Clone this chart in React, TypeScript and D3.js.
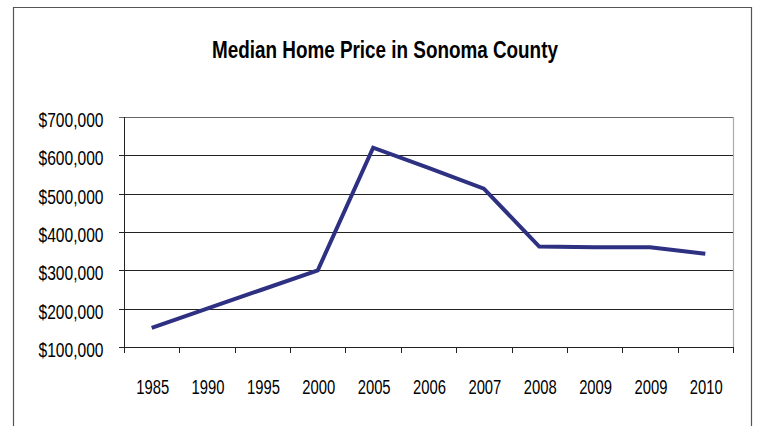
import React from "react";
import * as d3 from "d3";

const categories = ["1985", "1990", "1995", "2000", "2005", "2006", "2007", "2008", "2009", "2009 ", "2010"];
const prices = [150000, 200000, 250000, 300000, 620000, 567000, 513000, 362000, 360000, 360000, 343000];
const yTicks = [100000, 200000, 300000, 400000, 500000, 600000, 700000];
const title = "Median Home Price in Sonoma County";

const W = 760;
const H = 426;
const FONT = "'Liberation Sans', Arial, sans-serif";
const SX = 0.8;

export default function App() {
  const left = 124, right = 733, top = 117, bottom = 347;
  const x = d3.scaleBand<string>().domain(categories).range([left, right]).padding(0);
  const y = d3.scaleLinear().domain([100000, 700000]).range([bottom, top]);
  const cx = (c: string) => (x(c) as number) + x.bandwidth() / 2;
  const line = d3
    .line<number>()
    .x((_, i) => cx(categories[i]))
    .y((d) => y(d));
  const fmt = (v: number) => "$" + d3.format(",")(v);
  const boundaries = categories.map((c) => x(c) as number).concat([right]);

  return (
    <svg width={W} height={H} style={{ position: "absolute", left: 0, top: 0 }} fontFamily={FONT}>
      <rect x={0} y={0} width={W} height={H} fill="#fff" />
      {/* outer frame */}
      <path d={`M13.5,${H} V7.5 H751.5 V${H}`} fill="none" stroke="#555" strokeWidth={1.2} />
      <text transform={`translate(385,57.5) scale(0.77,1)`} textAnchor="middle" fontSize={24.5} fontWeight="bold" fill="#000">
        {title}
      </text>
      {/* plot area right border */}
      <line x1={right + 0.5} x2={right + 0.5} y1={top} y2={bottom} stroke="#aaa" strokeWidth={1.2} />
      {/* gridlines */}
      {yTicks.map((t) => (
        <line key={"g" + t} x1={left - 5} x2={right} y1={Math.round(y(t)) + 0.5} y2={Math.round(y(t)) + 0.5} stroke={t === 700000 ? "#666" : "#222"} strokeWidth={1} />
      ))}
      {/* y axis */}
      <line x1={left + 0.5} x2={left + 0.5} y1={top} y2={bottom} stroke="#222" strokeWidth={1} />
      {yTicks.map((t) => (
        <text key={"yl" + t} transform={`translate(103.5,${y(t) + 10}) scale(${SX},1)`} textAnchor="end" fontSize={19.5} fill="#000">
          {fmt(t)}
        </text>
      ))}
      {/* x axis */}
      <line x1={left} x2={right} y1={bottom + 0.5} y2={bottom + 0.5} stroke="#222" strokeWidth={1.2} />
      {boundaries.map((b, i) => (
        <line key={"xt" + i} x1={Math.round(b) + 0.5} x2={Math.round(b) + 0.5} y1={bottom} y2={bottom + 6} stroke="#222" strokeWidth={1} />
      ))}
      {categories.map((c) => (
        <text key={"xl" + c} transform={`translate(${cx(c) + 1},394) scale(0.76,1)`} textAnchor="middle" fontSize={19.5} fill="#000">
          {c.trim()}
        </text>
      ))}
      <path d={line(prices) || ""} fill="none" stroke="#2E3182" strokeWidth={4} strokeLinejoin="miter" strokeLinecap="butt" />
    </svg>
  );
}
